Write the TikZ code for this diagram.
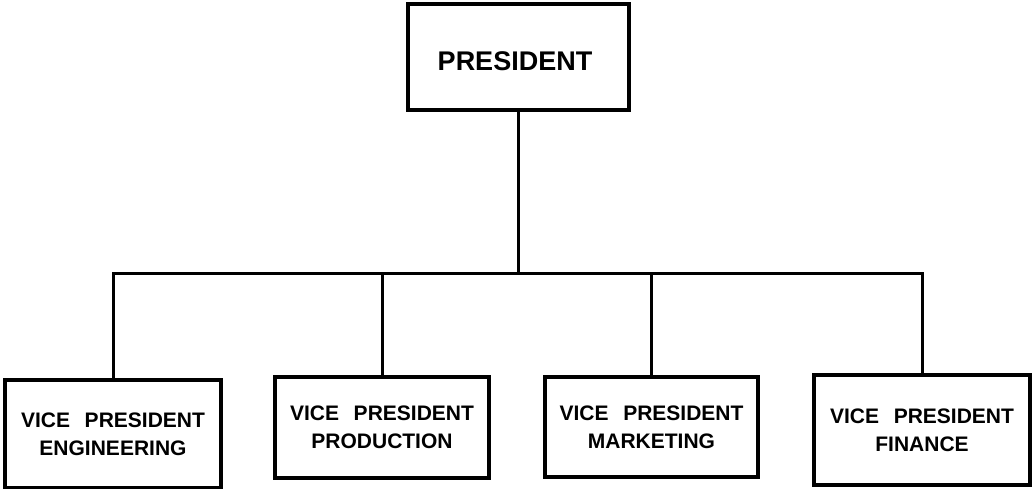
\documentclass[tikz,border=0pt]{standalone}
\usepackage{fontspec}
\setmainfont{Liberation Sans}
\begin{document}
\begin{tikzpicture}[x=1pt,y=-1pt,
  box/.style={draw, line width=3.5pt, inner sep=0pt, align=center, font=\bfseries\fontsize{21}{28}\selectfont},
  conn/.style={line width=3pt}]
\useasboundingbox (0,0) rectangle (1032,489);
\node[box, minimum width=221, minimum height=106] (pres) at (518.5,57) {};
\node[font=\bfseries\fontsize{27}{30}\selectfont, inner sep=0pt] (prestext) at (515,61) {PRESIDENT};
\node[box, minimum width=216, minimum height=108] (vp1) at (113,434) {VICE\hspace{0.7em}PRESIDENT\\ENGINEERING};
\node[box, minimum width=214, minimum height=101] (vp2) at (382,427.5) {VICE\hspace{0.7em}PRESIDENT\\PRODUCTION};
\node[box, minimum width=213, minimum height=100] (vp3) at (651.5,427) {VICE\hspace{0.7em}PRESIDENT\\MARKETING};
\node[box, minimum width=216, minimum height=110] (vp4) at (922,430) {VICE\hspace{0.7em}PRESIDENT\\FINANCE};
\coordinate (bar) at (518.5,273);
\draw[conn] (pres.south) -- (bar);
\draw[conn] (vp1.north) -- (vp1.north |- bar) -- (vp4.north |- bar) -- (vp4.north);
\draw[conn] (vp2.north) -- (vp2.north |- bar);
\draw[conn] (vp3.north) -- (vp3.north |- bar);
\end{tikzpicture}
\end{document}
